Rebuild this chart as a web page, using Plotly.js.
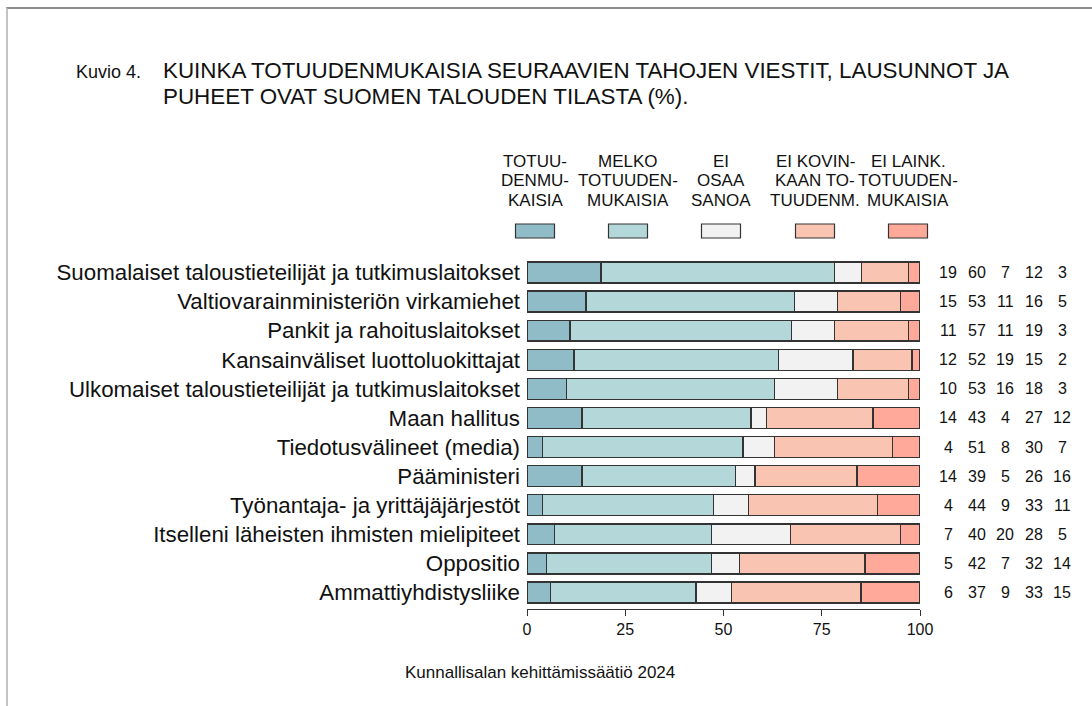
<!DOCTYPE html>
<html><head><meta charset="utf-8">
<script src="https://cdn.plot.ly/plotly-3.0.1.min.js"></script>
<style>
html,body{margin:0;padding:0;background:#fff;overflow:hidden;}
#chart{width:1092px;height:706px;position:absolute;left:0;top:0;}
#frame{position:absolute;left:6px;top:7px;width:3000px;height:3000px;border-top:2px solid #8c8c8c;border-left:2px solid #c4c4c4;pointer-events:none;}
</style>
</head><body>
<div id="chart"></div><div id="frame"></div>
<script>
// ---- data ----
const categories = [
  "Suomalaiset taloustieteilijät ja tutkimuslaitokset",
  "Valtiovarainministeriön virkamiehet",
  "Pankit ja rahoituslaitokset",
  "Kansainväliset luottoluokittajat",
  "Ulkomaiset taloustieteilijät ja tutkimuslaitokset",
  "Maan hallitus",
  "Tiedotusvälineet (media)",
  "Pääministeri",
  "Työnantaja- ja yrittäjäjärjestöt",
  "Itselleni läheisten ihmisten mielipiteet",
  "Oppositio",
  "Ammattiyhdistysliike"
];
const totuudenmukaisia = [19, 15, 11, 12, 10, 14, 4, 14, 4, 7, 5, 6];
const melkoTotuudenmukaisia = [60, 53, 57, 52, 53, 43, 51, 39, 44, 40, 42, 37];
const eiOsaaSanoa = [7, 11, 11, 19, 16, 4, 8, 5, 9, 20, 7, 9];
const eiKovinkaan = [12, 16, 19, 15, 18, 27, 30, 26, 33, 28, 32, 33];
const eiLainkaan = [3, 5, 3, 2, 3, 12, 7, 16, 11, 5, 14, 15];
const legendLabels = [
  ["TOTUU-", "DENMU-", "KAISIA"],
  ["MELKO", "TOTUUDEN-", "MUKAISIA"],
  ["EI", "OSAA", "SANOA"],
  ["EI KOVIN-", "KAAN TO-", "TUUDENM."],
  ["EI LAINK.", "TOTUUDEN-", "MUKAISIA"]
];
const xTicks = [0, 25, 50, 75, 100];
const titleLines = ["KUINKA TOTUUDENMUKAISIA SEURAAVIEN TAHOJEN VIESTIT, LAUSUNNOT JA",
                    "PUHEET OVAT SUOMEN TALOUDEN TILASTA (%)."];
const figureLabel = "Kuvio 4.";
const sourceText = "Kunnallisalan kehittämissäätiö 2024";

// ---- styles ----
const series = [totuudenmukaisia, melkoTotuudenmukaisia, eiOsaaSanoa, eiKovinkaan, eiLainkaan];
const colors = ["#8FBCC7", "#B4D7D9", "#F2F2F2", "#F9C5B2", "#FFA99B"];
const FONT = "Liberation Sans, Arial, sans-serif";

const W = 1092, H = 706;
const M = {l: 527, r: 172, t: 258, b: 97};
const PW = W - M.l - M.r, PH = H - M.t - M.b;
const px = x => (x - M.l) / PW;
const py = y => (H - M.b - y) / PH;

const totals = categories.map((c, i) => series.reduce((s, arr) => s + arr[i], 0));

const traces = series.map((arr, k) => ({
  type: "bar",
  orientation: "h",
  y: categories,
  x: arr.map((v, i) => v / totals[i] * 100),
  marker: {color: colors[k], line: {color: "#333333", width: 1.4}},
  hoverinfo: "skip",
  showlegend: false
}));

const annotations = [];
// title
annotations.push({xref: "paper", yref: "paper", x: px(74), y: py(72), xanchor: "left", yanchor: "middle",
  text: figureLabel, showarrow: false, font: {family: FONT, size: 18, color: "#111"}});
titleLines.forEach((t, i) => annotations.push({xref: "paper", yref: "paper", x: px(161), y: py(70 + i * 26),
  xanchor: "left", yanchor: "middle", text: t, showarrow: false, font: {family: FONT, size: 22.4, color: "#111"}}));
// legend
const legendX = [535, 628, 721, 815, 908];
const shapes = [];
legendLabels.forEach((lines, k) => {
  lines.forEach((t, j) => annotations.push({xref: "paper", yref: "paper", x: px(legendX[k]), y: py(161.5 + j * 19.3),
    xanchor: "center", yanchor: "middle", text: t, showarrow: false, font: {family: FONT, size: 17, color: "#111"}}));
  shapes.push({type: "rect", xref: "paper", yref: "paper", x0: px(legendX[k] - 19.5), x1: px(legendX[k] + 19.5),
    y0: py(238), y1: py(224), fillcolor: colors[k], line: {color: "#333", width: 1.2}});
});
// numbers at right
const numX = [948, 977, 1005, 1034, 1062];
categories.forEach((c, i) => {
  series.forEach((arr, k) => annotations.push({xref: "paper", yref: "y", x: px(numX[k]), y: c,
    xanchor: "center", yanchor: "middle", text: String(arr[i]), showarrow: false,
    font: {family: FONT, size: 16, color: "#111"}}));
});
// source
annotations.push({xref: "paper", yref: "paper", x: px(540), y: py(672), xanchor: "center", yanchor: "middle",
  text: sourceText, showarrow: false, font: {family: FONT, size: 17, color: "#111"}});

const layout = {
  width: W, height: H,
  margin: M,
  paper_bgcolor: "rgba(0,0,0,0)",
  plot_bgcolor: "rgba(0,0,0,0)",
  barmode: "stack",
  bargap: 0.28,
  xaxis: {range: [0, 100], tickvals: xTicks, ticktext: xTicks.map(String), ticks: "outside", ticklen: 6,
    tickcolor: "#333", tickwidth: 1, showline: true, linecolor: "#333", linewidth: 1, showgrid: false,
    zeroline: false, tickfont: {family: FONT, size: 16, color: "#111"}, fixedrange: true},
  yaxis: {type: "category", range: [11.567, -0.498], showgrid: false, zeroline: false, showline: false,
    ticks: "", ticklabelstandoff: 6, tickfont: {family: FONT, size: 22.3, color: "#111"}, fixedrange: true},
  annotations: annotations,
  shapes: shapes,
  font: {family: FONT}
};

Plotly.newPlot("chart", traces, layout, {displayModeBar: false, staticPlot: true});
</script>
</body></html>
